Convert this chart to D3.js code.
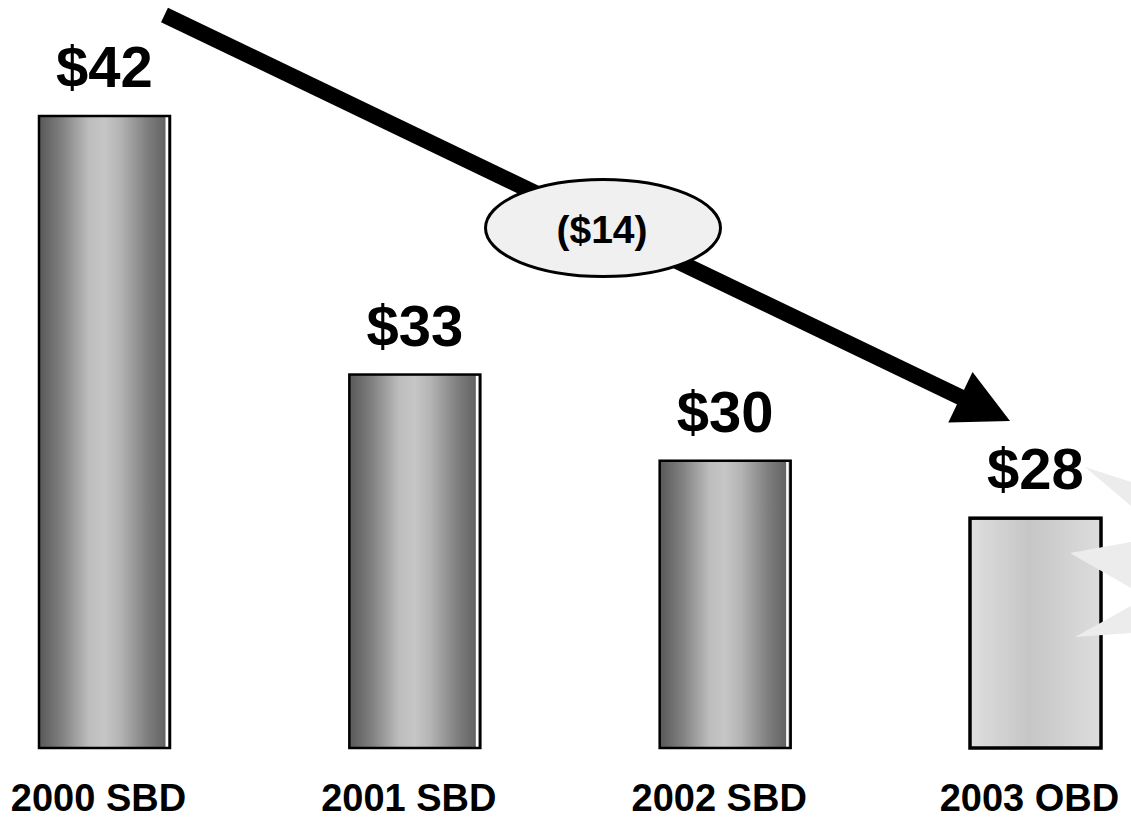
<!DOCTYPE html>
<html>
<head>
<meta charset="utf-8">
<script src="https://cdn.jsdelivr.net/npm/d3@7/dist/d3.min.js"></script>
<style>
  html, body { margin: 0; padding: 0; background: #ffffff; }
  svg { display: block; }
  text { font-family: Arial, "Liberation Sans", sans-serif; font-weight: bold; fill: #000; }
</style>
</head>
<body>
<svg id="chart" width="1131" height="818"></svg>
<script>
// Budget by year (millions of dollars)
const categories = ["2000 SBD", "2001 SBD", "2002 SBD", "2003 OBD"];
const values = [42, 33, 30, 28];
const valueLabels = ["$42", "$33", "$30", "$28"];
const changeLabel = "($14)";

const W = 1131, H = 818;
const svg = d3.select("#chart");
const defs = svg.append("defs");

// Scales: the value axis begins at 20, not at zero
const x = d3.scalePoint().domain(categories).range([104.5, 1035.5]);
const y = d3.scaleLinear().domain([20, 42]).range([748, 116]);
const barW = 131;

// Cylinder-like shading for the historic bars
const gDark = defs.append("linearGradient").attr("id", "barDark")
  .attr("x1", "0%").attr("x2", "100%").attr("y1", "0%").attr("y2", "0%");
[[0, "#585858"], [0.18, "#828282"], [0.38, "#bdbdbd"], [0.5, "#c6c6c6"], [0.62, "#b4b4b4"], [0.82, "#808080"], [1, "#5c5c5c"]]
  .forEach(([o, c]) => gDark.append("stop").attr("offset", o).attr("stop-color", c));

// Lighter shading for the outlook bar
const gLight = defs.append("linearGradient").attr("id", "barLight")
  .attr("x1", "0%").attr("x2", "100%").attr("y1", "0%").attr("y2", "0%");
[[0, "#dedede"], [0.45, "#c6c6c6"], [1, "#dddddd"]]
  .forEach(([o, c]) => gLight.append("stop").attr("offset", o).attr("stop-color", c));

const isOutlook = (d, i) => i === categories.length - 1;

const bars = svg.append("g").selectAll("g.bar")
  .data(values)
  .join("g").attr("class", "bar");

bars.append("rect")
  .attr("x", (d, i) => x(categories[i]) - barW / 2)
  .attr("y", d => y(d))
  .attr("width", barW)
  .attr("height", d => y.range()[0] - y(d))
  .attr("fill", (d, i) => isOutlook(d, i) ? "url(#barLight)" : "url(#barDark)");

// Light highlight strip along the right edge of the historic bars
bars.filter((d, i) => !isOutlook(d, i)).append("rect")
  .attr("x", (d, i) => x(categories[i]) + barW / 2 - 4.5)
  .attr("y", d => y(d) + 1)
  .attr("width", 2.5)
  .attr("height", d => y.range()[0] - y(d) - 2)
  .attr("fill", "#ffffff");

// Faint zig-zag shapes cutting in from the right edge
const burst = [
  [[1085, 467], [1131, 482], [1131, 506]],
  [[1070, 553], [1131, 542], [1131, 588]],
  [[1075, 637], [1131, 606], [1131, 633]]
];
svg.append("g").selectAll("path")
  .data(burst)
  .join("path")
  .attr("d", d => d3.line()(d) + "Z")
  .attr("fill", "#ececec");

// Bar outlines
bars.append("rect")
  .attr("x", (d, i) => x(categories[i]) - barW / 2)
  .attr("y", d => y(d))
  .attr("width", barW)
  .attr("height", d => y.range()[0] - y(d))
  .attr("fill", "none")
  .attr("stroke", "#000")
  .attr("stroke-width", (d, i) => isOutlook(d, i) ? 3.5 : 2.5);

// Value labels above each bar
svg.append("g").selectAll("text")
  .data(values)
  .join("text")
  .attr("x", (d, i) => x(categories[i]))
  .attr("y", d => y(d) - 29)
  .attr("text-anchor", "middle")
  .attr("font-size", 58)
  .text((d, i) => valueLabels[i]);

// Category labels along the bottom
svg.append("g").selectAll("text")
  .data(categories)
  .join("text")
  .attr("x", d => x(d) - 6)
  .attr("y", 811)
  .attr("text-anchor", "middle")
  .attr("font-size", 38)
  .text(d => d);

// Trend arrow from the first year down to the outlook year
const start = [164.5, 15];
const tip = [1010, 421];
const dx = tip[0] - start[0], dy = tip[1] - start[1];
const len = Math.hypot(dx, dy);
const ux = dx / len, uy = dy / len;
const nx = -uy, ny = ux;
const headLen = 55, headHalf = 28;
const base = [tip[0] - ux * headLen, tip[1] - uy * headLen];

svg.append("line")
  .attr("x1", start[0]).attr("y1", start[1])
  .attr("x2", base[0] + ux * 2).attr("y2", base[1] + uy * 2)
  .attr("stroke", "#000")
  .attr("stroke-width", 16);

svg.append("path")
  .attr("d", d3.line()([
    tip,
    [base[0] + nx * headHalf, base[1] + ny * headHalf],
    [base[0] - nx * headHalf, base[1] - ny * headHalf]
  ]) + "Z")
  .attr("fill", "#000");

// Change callout
const callout = svg.append("g").attr("transform", "translate(603,228)");
callout.append("ellipse")
  .attr("rx", 117.5).attr("ry", 48.5)
  .attr("fill", "#f0f0f0")
  .attr("stroke", "#000")
  .attr("stroke-width", 3);
callout.append("text")
  .attr("x", -1).attr("y", 15)
  .attr("text-anchor", "middle")
  .attr("font-size", 39)
  .text(changeLabel);
</script>
</body>
</html>
